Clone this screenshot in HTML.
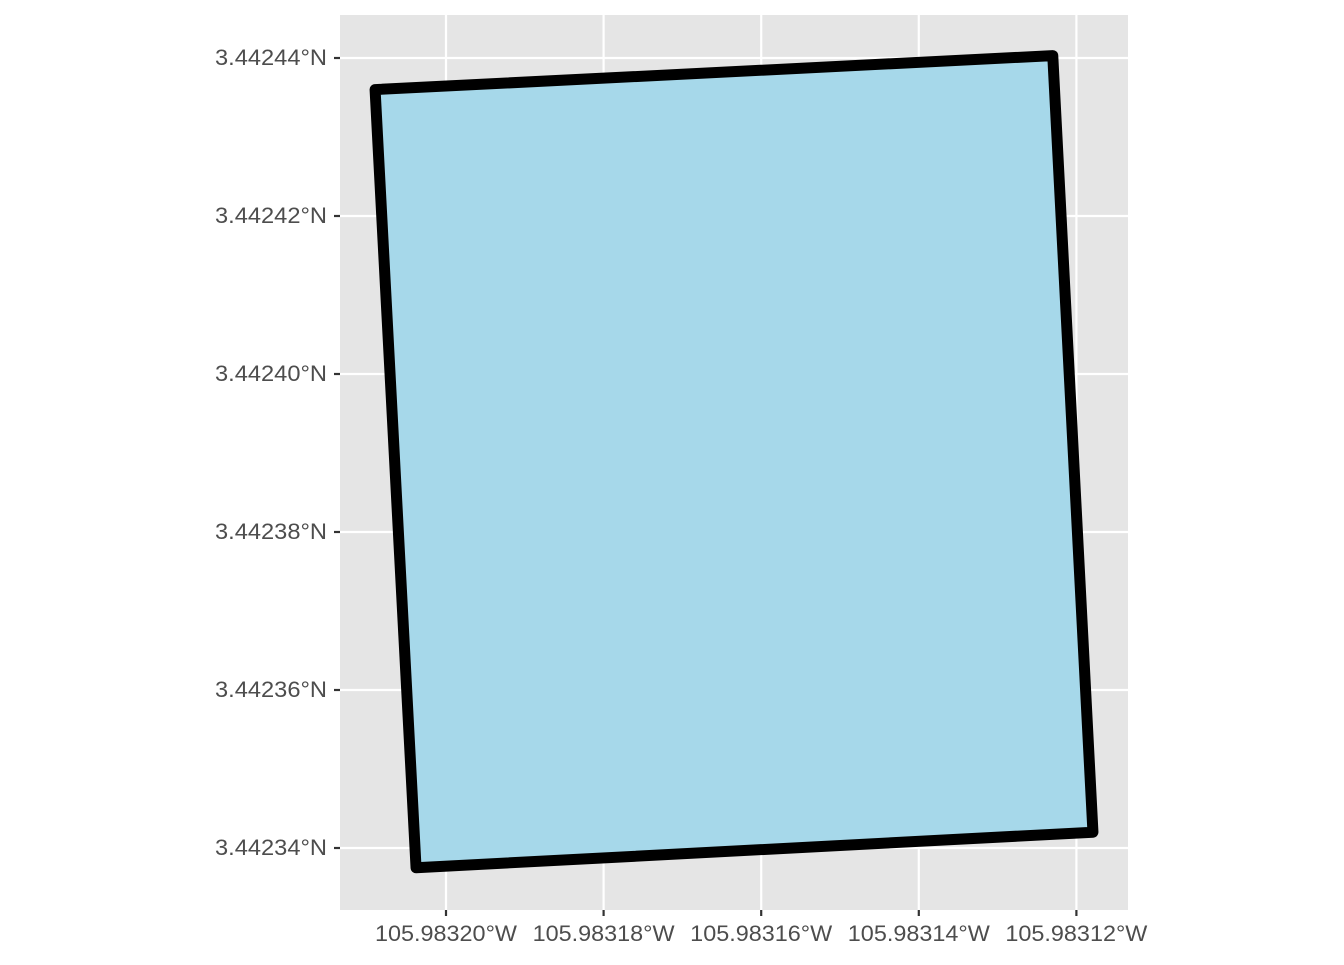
<!DOCTYPE html>
<html><head><meta charset="utf-8"><style>
body{margin:0;background:#fff;}
text{font-family:"Liberation Sans",Arial,sans-serif;font-size:22px;fill:#4d4d4d;}
</style></head><body>
<svg id="chart" width="1344" height="960" xmlns="http://www.w3.org/2000/svg">
<rect x="340" y="15" width="788" height="895" fill="#e5e5e5"/>
<g id="grid"></g>
<g id="poly"></g>
<g id="axes"></g>
</svg>
<script>
const xTicks=[-105.98320,-105.98318,-105.98316,-105.98314,-105.98312];
const xTickLabels=["105.98320°W","105.98318°W","105.98316°W","105.98314°W","105.98312°W"];
const yTicks=[3.44244,3.44242,3.44240,3.44238,3.44236,3.44234];
const yTickLabels=["3.44244°N","3.44242°N","3.44240°N","3.44238°N","3.44236°N","3.44234°N"];
const polyLon=[-105.983209,-105.983123,-105.9831179,-105.9832038];
const polyLat=[3.442436,3.4424403,3.442342,3.4423375];
const NS="http://www.w3.org/2000/svg";
function sx(v){return 446+(v-(-105.98320))/0.00002*157.6;}
function sy(v){return 58+(3.44244-v)/0.00002*158;}
function mk(t,a,p){const e=document.createElementNS(NS,t);for(const k in a)e.setAttribute(k,a[k]);p.appendChild(e);return e;}
const grid=document.getElementById('grid'),axes=document.getElementById('axes'),poly=document.getElementById('poly');
xTicks.forEach((v,i)=>{const x=sx(v);
 const g=mk('line',{x1:x,x2:x,y1:15,y2:910,stroke:'#fff','stroke-width':2.2},grid);
 
 
 const t=mk('line',{x1:x,x2:x,y1:910,y2:916,stroke:'#333','stroke-width':2.2},axes);
 
 
 const l=mk('text',{x:x,y:941,'text-anchor':'middle',textLength:142,lengthAdjust:'spacingAndGlyphs'},axes);l.textContent=xTickLabels[i];
 
 
});
yTicks.forEach((v,i)=>{const y=sy(v);
 const g=mk('line',{x1:340,x2:1128,y1:y,y2:y,stroke:'#fff','stroke-width':2.2},grid);
 
 
 const t=mk('line',{x1:334,x2:340,y1:y,y2:y,stroke:'#333','stroke-width':2.2},axes);
 
 
 const l=mk('text',{x:327,y:y+7,'text-anchor':'end',textLength:112,lengthAdjust:'spacingAndGlyphs'},axes);l.textContent=yTickLabels[i];
 
 
});
const pts=polyLon.map((v,i)=>sx(v)+','+sy(polyLat[i])).join(' ');
const p=mk('polygon',{points:pts,fill:'#a6d8ea',stroke:'#000','stroke-width':11,'stroke-linejoin':'round'},poly);


</script>
</body></html>
